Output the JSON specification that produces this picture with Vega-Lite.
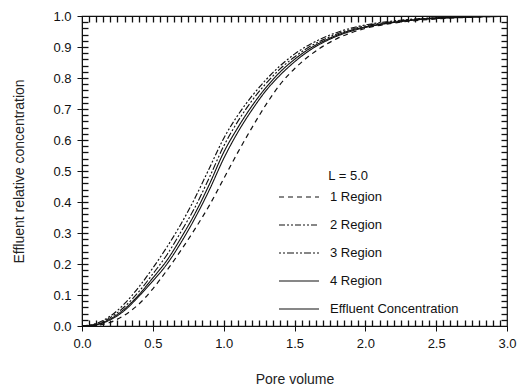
{
  "$schema": "https://vega.github.io/schema/vega-lite/v6.json",
  "width": 425,
  "height": 310,
  "autosize": "none",
  "padding": {"left": 82, "top": 16, "right": 19, "bottom": 65},
  "background": "white",
  "config": {
    "font": "Liberation Sans",
    "view": {"stroke": "#111", "strokeWidth": 1.2},
    "axis": {"grid": false, "labelFont": "Liberation Sans", "titleFont": "Liberation Sans", "labelColor": "#111", "titleColor": "#222", "domainColor": "#111", "tickColor": "#111", "labelFontSize": 13, "titleFontSize": 14, "titleFontWeight": "normal"}
  },
  "datasets": {
    "curves": [
      {"v": 0.0, "1 Region": 0.0, "2 Region": 0.0, "3 Region": 0.0, "4 Region": 0.0, "Effluent Concentration": 0.0},
      {"v": 0.1, "1 Region": 0.002, "2 Region": 0.008, "3 Region": 0.006, "4 Region": 0.005, "Effluent Concentration": 0.004},
      {"v": 0.2, "1 Region": 0.012, "2 Region": 0.032, "3 Region": 0.027, "4 Region": 0.023, "Effluent Concentration": 0.02},
      {"v": 0.3, "1 Region": 0.035, "2 Region": 0.072, "3 Region": 0.062, "4 Region": 0.055, "Effluent Concentration": 0.05},
      {"v": 0.4, "1 Region": 0.07, "2 Region": 0.125, "3 Region": 0.11, "4 Region": 0.1, "Effluent Concentration": 0.095},
      {"v": 0.5, "1 Region": 0.12, "2 Region": 0.187, "3 Region": 0.168, "4 Region": 0.155, "Effluent Concentration": 0.145},
      {"v": 0.6, "1 Region": 0.18, "2 Region": 0.255, "3 Region": 0.23, "4 Region": 0.212, "Effluent Concentration": 0.2},
      {"v": 0.7, "1 Region": 0.245, "2 Region": 0.33, "3 Region": 0.305, "4 Region": 0.285, "Effluent Concentration": 0.27},
      {"v": 0.8, "1 Region": 0.315, "2 Region": 0.415, "3 Region": 0.385, "4 Region": 0.365, "Effluent Concentration": 0.35},
      {"v": 0.9, "1 Region": 0.39, "2 Region": 0.51, "3 Region": 0.48, "4 Region": 0.458, "Effluent Concentration": 0.44},
      {"v": 1.0, "1 Region": 0.475, "2 Region": 0.605, "3 Region": 0.58, "4 Region": 0.56, "Effluent Concentration": 0.54},
      {"v": 1.1, "1 Region": 0.56, "2 Region": 0.68, "3 Region": 0.66, "4 Region": 0.64, "Effluent Concentration": 0.625},
      {"v": 1.2, "1 Region": 0.64, "2 Region": 0.742, "3 Region": 0.727, "4 Region": 0.71, "Effluent Concentration": 0.697},
      {"v": 1.3, "1 Region": 0.715, "2 Region": 0.795, "3 Region": 0.783, "4 Region": 0.77, "Effluent Concentration": 0.76},
      {"v": 1.4, "1 Region": 0.78, "2 Region": 0.84, "3 Region": 0.83, "4 Region": 0.82, "Effluent Concentration": 0.81},
      {"v": 1.5, "1 Region": 0.83, "2 Region": 0.877, "3 Region": 0.868, "4 Region": 0.86, "Effluent Concentration": 0.852},
      {"v": 1.6, "1 Region": 0.87, "2 Region": 0.906, "3 Region": 0.899, "4 Region": 0.893, "Effluent Concentration": 0.887},
      {"v": 1.7, "1 Region": 0.902, "2 Region": 0.929, "3 Region": 0.923, "4 Region": 0.918, "Effluent Concentration": 0.914},
      {"v": 1.8, "1 Region": 0.927, "2 Region": 0.947, "3 Region": 0.942, "4 Region": 0.938, "Effluent Concentration": 0.935},
      {"v": 1.9, "1 Region": 0.946, "2 Region": 0.961, "3 Region": 0.957, "4 Region": 0.954, "Effluent Concentration": 0.951},
      {"v": 2.0, "1 Region": 0.96, "2 Region": 0.971, "3 Region": 0.968, "4 Region": 0.965, "Effluent Concentration": 0.963},
      {"v": 2.2, "1 Region": 0.977, "2 Region": 0.984, "3 Region": 0.982, "4 Region": 0.98, "Effluent Concentration": 0.979},
      {"v": 2.4, "1 Region": 0.987, "2 Region": 0.992, "3 Region": 0.991, "4 Region": 0.99, "Effluent Concentration": 0.989},
      {"v": 2.6, "1 Region": 0.993, "2 Region": 0.996, "3 Region": 0.996, "4 Region": 0.995, "Effluent Concentration": 0.994},
      {"v": 2.8, "1 Region": 0.997, "2 Region": 0.998, "3 Region": 0.998, "4 Region": 0.998, "Effluent Concentration": 0.997},
      {"v": 3.0, "1 Region": 0.999, "2 Region": 1.0, "3 Region": 1.0, "4 Region": 0.999, "Effluent Concentration": 0.999}
    ]
  },
  "data": {"name": "curves"},
  "transform": [
    {"fold": ["1 Region", "2 Region", "3 Region", "4 Region", "Effluent Concentration"], "as": ["series", "c"]}
  ],
  "resolve": {"axis": {"x": "independent", "y": "independent"}},
  "layer": [
    {
      "mark": {"type": "line", "interpolate": "monotone", "color": "#111", "clip": true},
      "encoding": {
        "x": {"field": "v", "type": "quantitative", "scale": {"domain": [0, 3], "nice": false},
              "axis": {"orient": "bottom", "values": [0, 0.5, 1, 1.5, 2, 2.5, 3], "format": ".1f", "tickSize": 5, "labelPadding": 6, "title": "Pore volume", "titlePadding": 22, "labelFlush": false}},
        "y": {"field": "c", "type": "quantitative", "scale": {"domain": [0, 1], "nice": false},
              "axis": {"orient": "left", "values": [0, 0.1, 0.2, 0.3, 0.4, 0.5, 0.6, 0.7, 0.8, 0.9, 1.0], "format": ".1f", "tickSize": 5, "labelPadding": 6, "title": "Effluent relative concentration", "titlePadding": 26, "labelFlush": false}},
        "detail": {"field": "series"},
        "strokeDash": {"field": "series", "type": "nominal", "title": "L = 5.0",
          "scale": {"domain": ["1 Region", "2 Region", "3 Region", "4 Region", "Effluent Concentration"],
                    "range": [[5, 4], [6, 2, 2, 2, 2, 2], [2, 2, 2, 2, 7, 2], [1, 0], [1, 0]]},
          "legend": {"orient": "none", "legendX": 196, "legendY": 154, "symbolType": "stroke", "symbolSize": 1600, "symbolStrokeColor": "#111",
                     "labelFontSize": 13, "labelFont": "Liberation Sans", "labelColor": "#111", "labelOffset": 10, "rowPadding": -5,
                     "titleFontSize": 13, "titleFontWeight": "normal", "titleFont": "Liberation Sans", "titleColor": "#111", "titleAnchor": "middle", "titleAlign": "right", "titlePadding": -7, "labelLimit": 300}},
        "strokeWidth": {"field": "series", "type": "nominal", "title": "L = 5.0",
          "scale": {"domain": ["1 Region", "2 Region", "3 Region", "4 Region", "Effluent Concentration"], "range": [1.2, 1.1, 1.1, 2.2, 1]}}
      }
    },
    {
      "mark": {"type": "point", "opacity": 0},
      "encoding": {
        "x": {"field": "v", "type": "quantitative",
              "axis": {"orient": "top", "values": [0.05,0.1,0.15,0.2,0.25,0.3,0.35,0.4,0.45,0.5,0.55,0.6,0.65,0.7,0.75,0.8,0.85,0.9,0.95,1.0,1.05,1.1,1.15,1.2,1.25,1.3,1.35,1.4,1.45,1.5,1.55,1.6,1.65,1.7,1.75,1.8,1.85,1.9,1.95,2.0,2.05,2.1,2.15,2.2,2.25,2.3,2.35,2.4,2.45,2.5,2.55,2.6,2.65,2.7,2.75,2.8,2.85,2.9,2.95], "labels": false, "domain": false, "ticks": true, "tickSize": 6, "tickWidth": 1.3, "offset": -6, "title": null}},
        "y": {"field": "c", "type": "quantitative",
              "axis": {"orient": "right", "values": [0.02,0.04,0.06,0.08,0.1,0.12,0.14,0.16,0.18,0.2,0.22,0.24,0.26,0.28,0.3,0.32,0.34,0.36,0.38,0.4,0.42,0.44,0.46,0.48,0.5,0.52,0.54,0.56,0.58,0.6,0.62,0.64,0.66,0.68,0.7,0.72,0.74,0.76,0.78,0.8,0.82,0.84,0.86,0.88,0.9,0.92,0.94,0.96,0.98], "labels": false, "domain": false, "ticks": true, "tickSize": 6, "tickWidth": 1.3, "offset": -6, "title": null}}
      }
    },
    {
      "mark": {"type": "point", "opacity": 0},
      "encoding": {
        "x": {"field": "v", "type": "quantitative",
              "axis": {"orient": "bottom", "values": [0.05,0.1,0.15,0.2,0.25,0.3,0.35,0.4,0.45,0.5,0.55,0.6,0.65,0.7,0.75,0.8,0.85,0.9,0.95,1.0,1.05,1.1,1.15,1.2,1.25,1.3,1.35,1.4,1.45,1.5,1.55,1.6,1.65,1.7,1.75,1.8,1.85,1.9,1.95,2.0,2.05,2.1,2.15,2.2,2.25,2.3,2.35,2.4,2.45,2.5,2.55,2.6,2.65,2.7,2.75,2.8,2.85,2.9,2.95], "labels": false, "domain": false, "ticks": true, "tickSize": 6, "tickWidth": 1.3, "offset": -6, "title": null}},
        "y": {"field": "c", "type": "quantitative",
              "axis": {"orient": "left", "values": [0.02,0.04,0.06,0.08,0.1,0.12,0.14,0.16,0.18,0.2,0.22,0.24,0.26,0.28,0.3,0.32,0.34,0.36,0.38,0.4,0.42,0.44,0.46,0.48,0.5,0.52,0.54,0.56,0.58,0.6,0.62,0.64,0.66,0.68,0.7,0.72,0.74,0.76,0.78,0.8,0.82,0.84,0.86,0.88,0.9,0.92,0.94,0.96,0.98], "labels": false, "domain": false, "ticks": true, "tickSize": 6, "tickWidth": 1.3, "offset": -6, "title": null}}
      }
    }
  ]
}
